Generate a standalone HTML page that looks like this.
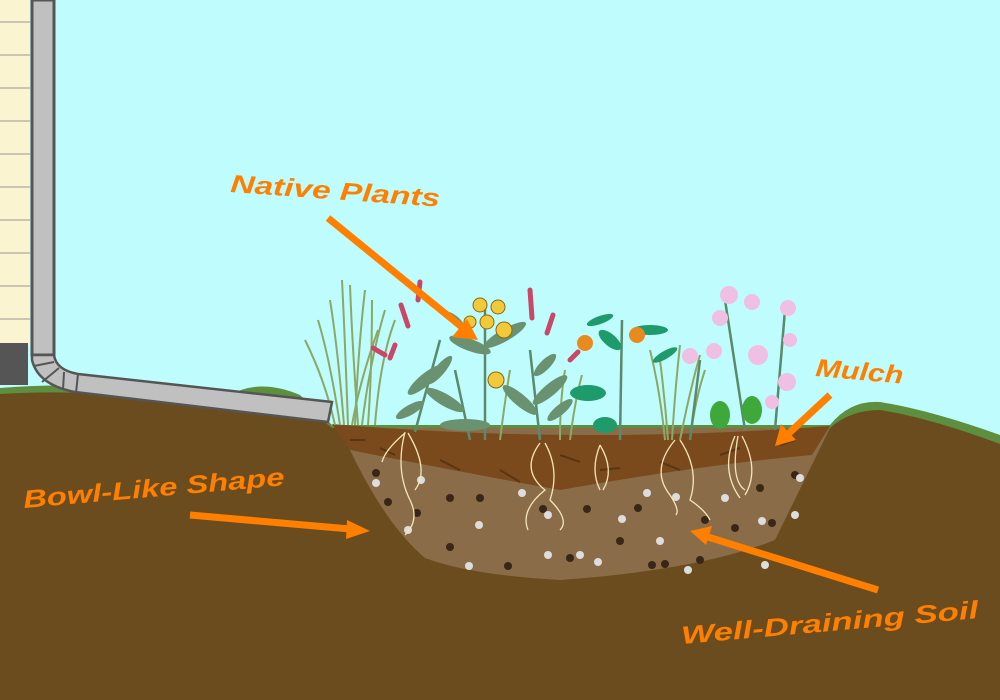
<!DOCTYPE html>
<html><head><meta charset="utf-8"><style>
html,body{margin:0;padding:0;width:1000px;height:700px;overflow:hidden;background:#bffcfe}
text{font-family:"Liberation Sans",sans-serif;font-style:italic;font-weight:bold;fill:#ff7f00;font-size:25px}
</style></head><body>
<svg width="1000" height="700" viewBox="0 0 1000 700" xmlns="http://www.w3.org/2000/svg">
<rect width="1000" height="700" fill="#bffcfe"/>
<rect x="0" y="0" width="30" height="345" fill="#fbf4d0"/>
<g stroke="#c9c5b0" stroke-width="2">
<line x1="0" y1="22" x2="30" y2="22"/><line x1="0" y1="55" x2="30" y2="55"/><line x1="0" y1="88" x2="30" y2="88"/><line x1="0" y1="121" x2="30" y2="121"/><line x1="0" y1="154" x2="30" y2="154"/><line x1="0" y1="187" x2="30" y2="187"/><line x1="0" y1="220" x2="30" y2="220"/><line x1="0" y1="253" x2="30" y2="253"/><line x1="0" y1="286" x2="30" y2="286"/><line x1="0" y1="319" x2="30" y2="319"/>
</g>
<rect x="0" y="343" width="28" height="42" fill="#555"/>
<path d="M0,388 Q100,380 180,398 L230,395 Q260,378 300,395 L332,425 L830,425 Q850,400 880,402 Q930,410 1000,435 L1000,700 L0,700 Z" fill="#5e8f3e"/>
<path d="M0,394 Q100,388 180,404 L230,400 Q260,390 300,402 L332,428 L830,428 Q850,410 880,410 Q930,418 1000,444 L1000,700 L0,700 Z" fill="#6b4c1e"/>
<path d="M340,428 L830,428 L775,540 Q700,570 560,580 Q470,575 425,558 Q380,520 340,428 Z" fill="#8a6d48"/>
<path d="M332,424 Q580,445 830,426 L812,455 Q700,465 560,490 Q450,470 350,450 Z" fill="#7b4a1c"/>
<g stroke="#5a3514" stroke-width="2">
<line x1="350" y1="440" x2="365" y2="440"/><line x1="380" y1="448" x2="395" y2="455"/><line x1="440" y1="460" x2="460" y2="470"/><line x1="500" y1="470" x2="520" y2="482"/><line x1="600" y1="470" x2="620" y2="468"/><line x1="660" y1="462" x2="680" y2="470"/><line x1="720" y1="455" x2="740" y2="448"/><line x1="780" y1="445" x2="795" y2="440"/><line x1="560" y1="455" x2="580" y2="462"/>
</g>
<g fill="#3a2616">
<circle cx="376" cy="473" r="4"/><circle cx="388" cy="502" r="4"/><circle cx="417" cy="513" r="4"/><circle cx="450" cy="498" r="4"/><circle cx="480" cy="498" r="4"/><circle cx="543" cy="509" r="4"/><circle cx="587" cy="509" r="4"/><circle cx="450" cy="547" r="4"/><circle cx="508" cy="566" r="4"/><circle cx="570" cy="558" r="4"/><circle cx="620" cy="541" r="4"/><circle cx="652" cy="565" r="4"/><circle cx="705" cy="520" r="4"/><circle cx="735" cy="528" r="4"/><circle cx="760" cy="488" r="4"/><circle cx="795" cy="475" r="4"/><circle cx="772" cy="523" r="4"/><circle cx="665" cy="564" r="4"/><circle cx="700" cy="560" r="4"/><circle cx="638" cy="508" r="4"/>
</g>
<g fill="#ddd">
<circle cx="376" cy="483" r="4"/><circle cx="421" cy="480" r="4"/><circle cx="408" cy="530" r="4"/><circle cx="479" cy="525" r="4"/><circle cx="522" cy="493" r="4"/><circle cx="548" cy="515" r="4"/><circle cx="580" cy="555" r="4"/><circle cx="598" cy="562" r="4"/><circle cx="660" cy="541" r="4"/><circle cx="622" cy="519" r="4"/><circle cx="647" cy="493" r="4"/><circle cx="676" cy="497" r="4"/><circle cx="725" cy="498" r="4"/><circle cx="762" cy="521" r="4"/><circle cx="795" cy="515" r="4"/><circle cx="765" cy="565" r="4"/><circle cx="548" cy="555" r="4"/><circle cx="469" cy="566" r="4"/><circle cx="800" cy="478" r="4"/><circle cx="688" cy="570" r="4"/>
</g>
<g stroke="#f5e6b8" stroke-width="1.3" fill="none">
<path d="M405,432 Q395,470 410,500 Q420,520 405,535"/><path d="M408,433 Q430,470 415,490"/><path d="M405,433 Q385,450 382,462"/>
<path d="M540,443 Q520,470 545,490 Q520,510 528,530"/><path d="M545,443 Q560,470 550,500 Q570,520 560,530"/>
<path d="M600,445 Q590,470 600,490"/><path d="M600,445 Q615,470 603,490"/>
<path d="M675,440 Q650,470 670,495 Q680,510 676,515"/><path d="M680,440 Q700,470 690,500 Q705,510 710,520"/>
<path d="M735,436 Q720,470 740,498"/><path d="M742,436 Q760,470 745,495"/><path d="M738,436 Q730,480 745,490"/>
</g>
<g stroke="#8aa964" stroke-width="2" fill="none">
<path d="M340,425 Q330,360 318,320"/><path d="M348,425 Q345,340 342,280"/><path d="M355,425 Q358,350 365,290"/><path d="M362,425 Q370,360 385,310"/><path d="M368,425 Q372,370 372,300"/><path d="M335,425 Q325,380 305,340"/>
<path d="M344,425 Q338,350 330,300"/><path d="M358,425 Q352,340 350,285"/><path d="M375,425 Q380,360 395,320"/><path d="M352,425 Q360,380 378,330"/>
<path d="M665,440 Q660,390 650,350"/><path d="M672,440 Q675,390 680,345"/><path d="M680,440 Q690,390 700,355"/><path d="M668,440 Q665,400 660,360"/><path d="M690,440 Q695,400 705,370"/>
<path d="M560,440 Q560,400 565,370"/><path d="M570,440 Q575,400 582,375"/><path d="M500,440 Q505,400 510,370"/>
</g>
<g stroke="#5b8a6a" stroke-width="2.5" fill="none">
<path d="M415,432 L440,340"/><path d="M485,440 L485,300"/><path d="M540,440 L530,350"/><path d="M620,440 L622,320"/><path d="M745,430 L725,300"/><path d="M775,430 L785,310"/><path d="M470,440 L455,370"/><path d="M690,440 L700,360"/>
</g>
<g fill="#6a9270">
<ellipse cx="425" cy="380" rx="22" ry="6" transform="rotate(-40 425 380)"/><ellipse cx="445" cy="400" rx="22" ry="6" transform="rotate(30 445 400)"/>
<ellipse cx="470" cy="345" rx="22" ry="6" transform="rotate(20 470 345)"/><ellipse cx="505" cy="335" rx="24" ry="6" transform="rotate(-30 505 335)"/>
<ellipse cx="550" cy="390" rx="22" ry="6" transform="rotate(-40 550 390)"/><ellipse cx="520" cy="400" rx="22" ry="6" transform="rotate(40 520 400)"/>
<ellipse cx="465" cy="425" rx="25" ry="6"/>
<ellipse cx="410" cy="410" rx="16" ry="5" transform="rotate(-30 410 410)"/><ellipse cx="440" cy="370" rx="18" ry="5" transform="rotate(-50 440 370)"/>
<ellipse cx="560" cy="410" rx="16" ry="5" transform="rotate(-40 560 410)"/><ellipse cx="455" cy="320" rx="12" ry="4" transform="rotate(40 455 320)"/>
<ellipse cx="545" cy="365" rx="15" ry="5" transform="rotate(-45 545 365)"/>
</g>
<g fill="#1f9a6a">
<ellipse cx="588" cy="393" rx="18" ry="8"/><ellipse cx="605" cy="425" rx="12" ry="8"/><ellipse cx="610" cy="340" rx="14" ry="6" transform="rotate(40 610 340)"/><ellipse cx="650" cy="330" rx="18" ry="5"/><ellipse cx="752" cy="410" rx="10" ry="14" fill="#3fa83a"/><ellipse cx="720" cy="415" rx="10" ry="14" fill="#3fa83a"/>
<ellipse cx="600" cy="320" rx="14" ry="4" transform="rotate(-20 600 320)"/><ellipse cx="665" cy="355" rx="14" ry="4" transform="rotate(-30 665 355)"/>
</g>
<g fill="#f2c93a" stroke="#8a6a10" stroke-width="1">
<circle cx="480" cy="305" r="7"/><circle cx="498" cy="307" r="7"/><circle cx="487" cy="322" r="7"/><circle cx="504" cy="330" r="8"/><circle cx="470" cy="322" r="6"/><circle cx="496" cy="380" r="8"/>
</g>
<g fill="#e98a1f"><circle cx="585" cy="343" r="8"/><circle cx="637" cy="335" r="8"/></g>
<g stroke="#c84866" stroke-width="5" stroke-linecap="round">
<line x1="401" y1="305" x2="408" y2="326"/><line x1="420" y1="282" x2="418" y2="300"/><line x1="530" y1="290" x2="532" y2="318"/><line x1="553" y1="315" x2="547" y2="333"/><line x1="373" y1="348" x2="385" y2="355"/><line x1="570" y1="360" x2="578" y2="352"/><line x1="395" y1="345" x2="390" y2="358"/>
</g>
<g fill="#f0c0e4">
<circle cx="729" cy="295" r="9"/><circle cx="752" cy="302" r="8"/><circle cx="720" cy="318" r="8"/><circle cx="788" cy="308" r="8"/><circle cx="790" cy="340" r="7"/><circle cx="714" cy="351" r="8"/><circle cx="758" cy="355" r="10"/><circle cx="690" cy="356" r="8"/><circle cx="787" cy="382" r="9"/><circle cx="772" cy="402" r="7"/>
</g>
<path d="M32,0 L54,0 L54,355 L32,355 Z" fill="#c0c0c0" stroke="#555" stroke-width="3"/>
<path d="M32,355 L54,355 Q56,370 78,374 L332,402 L328,422 L75,392 Q38,385 32,360 Z" fill="#c0c0c0" stroke="#555" stroke-width="2.5"/>
<g stroke="#555" stroke-width="2"><line x1="54" y1="362" x2="34" y2="366"/><line x1="59" y1="368" x2="42" y2="382"/><line x1="64" y1="372" x2="63" y2="390"/><line x1="78" y1="374" x2="76" y2="393"/></g>
<g stroke="#ff7f00" stroke-width="7" fill="#ff7f00">
<line x1="328" y1="218" x2="463" y2="328"/><polygon points="478,340 452,337 467,319" stroke="none"/>
<line x1="830" y1="395" x2="787" y2="435"/><polygon points="775,446 781,424 796,440" stroke="none"/>
<line x1="190" y1="515" x2="350" y2="529"/><polygon points="370,531 347,520 346,539" stroke="none"/>
<line x1="878" y1="590" x2="708" y2="537"/><polygon points="690,531 712,526 706,545" stroke="none"/>
</g>
<text x="230" y="192" transform="rotate(4 230 192)" textLength="210" lengthAdjust="spacingAndGlyphs">Native Plants</text>
<text x="815" y="376" transform="rotate(5 815 376)" textLength="88" lengthAdjust="spacingAndGlyphs">Mulch</text>
<text x="24" y="508" transform="rotate(-5 24 508)" textLength="262" lengthAdjust="spacingAndGlyphs">Bowl-Like Shape</text>
<text x="682" y="644" transform="rotate(-5 682 644)" textLength="298" lengthAdjust="spacingAndGlyphs">Well-Draining Soil</text>
</svg>
</body></html>
